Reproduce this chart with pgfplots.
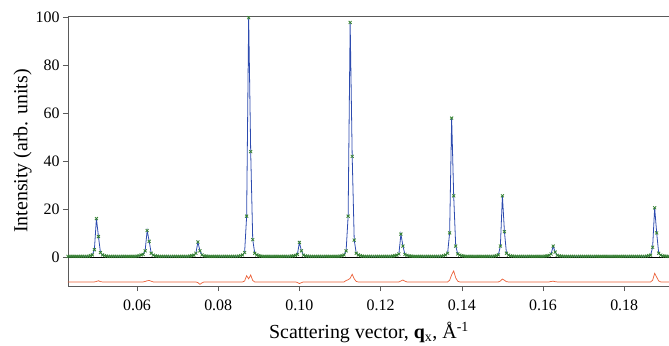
\documentclass[border=0pt]{standalone}
\usepackage{pgfplots}
\pgfplotsset{compat=1.18}
\usepackage{fontspec}
\setmainfont{Liberation Serif}
\definecolor{fitblue}{RGB}{45,75,175}
\definecolor{obsgreen}{RGB}{55,130,50}
\definecolor{diffred}{RGB}{235,95,55}
\definecolor{axgray}{RGB}{90,90,90}
\begin{document}
\begin{tikzpicture}
\begin{axis}[
  at={(0,0)}, anchor=south west,
  scale only axis, width=602bp, height=270bp,
  xmin=0.0430, xmax=0.19128, ymin=-12.2, ymax=100.7,
  xtick={0.06,0.08,0.10,0.12,0.14,0.16,0.18},
  xticklabels={0.06,0.08,0.10,0.12,0.14,0.16,0.18},
  ytick={0,20,40,60,80,100},
  tick align=outside, xtick pos=bottom, ytick pos=left,
  major tick length=5bp,
  tick style={axgray, line width=0.6pt},
  axis line style={axgray, line width=0.7pt},
  /pgf/number format/assume math mode=true,
  tick label style={font=\fontsize{16}{17}\selectfont},
  xticklabel style={yshift=-5bp},
  label style={font=\fontsize{20}{22}\selectfont},
  xlabel style={yshift=-5bp},
  ylabel style={yshift=-3bp},
  xlabel={Scattering vector, \textbf{q}\textsubscript{x}, Å\textsuperscript{-1}},
  ylabel={Intensity (arb. units)},
  clip=true,
]
\addplot[black, line width=0.6pt] coordinates {(0.0430,0) (0.19128,0)};
\addplot[fitblue, line width=0.8pt, mark=none] coordinates {
(0.0430,0.2) (0.0435,0.2) (0.0440,0.2) (0.0445,0.2) (0.0450,0.2) (0.0455,0.2) (0.0460,0.2) (0.0465,0.2) (0.0470,0.2) (0.0475,0.2) (0.0480,0.2)
(0.0485,0.5) (0.0490,0.8) (0.0495,3) (0.0500,16) (0.0505,8.5) (0.0510,1.8) (0.0515,0.8) (0.0520,0.5)
(0.0525,0.3) (0.0530,0.2) (0.0535,0.2) (0.0540,0.2) (0.0545,0.2) (0.0550,0.2) (0.0555,0.2) (0.0560,0.2) (0.0565,0.2) (0.0570,0.2) (0.0575,0.2) (0.0580,0.2) (0.0585,0.2) (0.0590,0.2) (0.0595,0.2) (0.0600,0.3) (0.0605,0.5)
(0.0610,0.8) (0.0615,1.0) (0.0620,2.5) (0.0625,11) (0.0630,6.5) (0.0635,1.5) (0.0640,0.7)
(0.0645,0.4) (0.0650,0.3) (0.0655,0.2) (0.0660,0.2) (0.0665,0.2) (0.0670,0.2) (0.0675,0.2) (0.0680,0.2) (0.0685,0.2) (0.0690,0.2) (0.0695,0.2) (0.0700,0.2) (0.0705,0.2) (0.0710,0.2) (0.0715,0.2) (0.0720,0.2) (0.0725,0.2) (0.0730,0.3) (0.0735,0.5)
(0.0740,0.7) (0.0745,1.5) (0.0750,6.2) (0.0755,2.5) (0.0760,0.8)
(0.0765,0.4) (0.0770,0.3) (0.0775,0.2) (0.0780,0.2) (0.0785,0.2) (0.0790,0.2) (0.0795,0.2) (0.0800,0.2) (0.0805,0.2) (0.0810,0.2) (0.0815,0.2) (0.0820,0.2) (0.0825,0.2) (0.0830,0.2) (0.0835,0.2) (0.0840,0.2) (0.0845,0.2) (0.0850,0.3) (0.0855,0.5)
(0.0860,0.8) (0.0865,1.8) (0.0870,17) (0.0875,100) (0.0880,44) (0.0885,7.2) (0.0890,1.5) (0.0895,0.8)
(0.0900,0.5) (0.0905,0.3) (0.0910,0.2) (0.0915,0.2) (0.0920,0.2) (0.0925,0.2) (0.0930,0.2) (0.0935,0.2) (0.0940,0.2) (0.0945,0.2) (0.0950,0.2) (0.0955,0.2) (0.0960,0.2) (0.0965,0.2) (0.0970,0.2) (0.0975,0.2) (0.0980,0.3) (0.0985,0.4)
(0.0990,0.6) (0.0995,1.0) (0.1000,6) (0.1005,2.5) (0.1010,0.7)
(0.1015,0.4) (0.1020,0.3) (0.1025,0.2) (0.1030,0.2) (0.1035,0.2) (0.1040,0.2) (0.1045,0.2) (0.1050,0.2) (0.1055,0.2) (0.1060,0.2) (0.1065,0.2) (0.1070,0.2) (0.1075,0.2) (0.1080,0.2) (0.1085,0.2) (0.1090,0.2) (0.1095,0.2) (0.1100,0.3) (0.1105,0.5)
(0.1110,0.8) (0.1115,2.5) (0.1120,17) (0.1125,98) (0.1130,42) (0.1135,7) (0.1140,1.5) (0.1145,0.8)
(0.1150,0.5) (0.1155,0.3) (0.1160,0.2) (0.1165,0.2) (0.1170,0.2) (0.1175,0.2) (0.1180,0.2) (0.1185,0.2) (0.1190,0.2) (0.1195,0.2) (0.1200,0.2) (0.1205,0.2) (0.1210,0.2) (0.1215,0.2) (0.1220,0.2) (0.1225,0.2) (0.1230,0.3) (0.1235,0.5)
(0.1240,0.7) (0.1245,1.2) (0.1250,9.5) (0.1255,4.5) (0.1260,1.0) (0.1265,0.6)
(0.1270,0.4) (0.1275,0.3) (0.1280,0.2) (0.1285,0.2) (0.1290,0.2) (0.1295,0.2) (0.1300,0.2) (0.1305,0.2) (0.1310,0.2) (0.1315,0.2) (0.1320,0.2) (0.1325,0.2) (0.1330,0.2) (0.1335,0.2) (0.1340,0.2) (0.1345,0.2) (0.1350,0.3) (0.1355,0.5)
(0.1360,0.8) (0.1365,1.5) (0.1370,10) (0.1375,58) (0.1380,25.5) (0.1385,4.5) (0.1390,1.2) (0.1395,0.7)
(0.1400,0.5) (0.1405,0.3) (0.1410,0.2) (0.1415,0.2) (0.1420,0.2) (0.1425,0.2) (0.1430,0.2) (0.1435,0.2) (0.1440,0.2) (0.1445,0.2) (0.1450,0.2) (0.1455,0.2) (0.1460,0.2) (0.1465,0.2) (0.1470,0.2) (0.1475,0.2) (0.1480,0.3) (0.1485,0.5)
(0.1490,0.8) (0.1495,4.5) (0.1500,25.5) (0.1505,10.5) (0.1510,1.5) (0.1515,0.7)
(0.1520,0.4) (0.1525,0.3) (0.1530,0.2) (0.1535,0.2) (0.1540,0.2) (0.1545,0.2) (0.1550,0.2) (0.1555,0.2) (0.1560,0.2) (0.1565,0.2) (0.1570,0.2) (0.1575,0.2) (0.1580,0.2) (0.1585,0.2) (0.1590,0.2) (0.1595,0.2) (0.1600,0.2) (0.1605,0.3) (0.1610,0.4)
(0.1615,0.6) (0.1620,1.2) (0.1625,4.5) (0.1630,2) (0.1635,0.6)
(0.1640,0.4) (0.1645,0.3) (0.1650,0.2) (0.1655,0.2) (0.1660,0.2) (0.1665,0.2) (0.1670,0.2) (0.1675,0.2) (0.1680,0.2) (0.1685,0.2) (0.1690,0.2) (0.1695,0.2) (0.1700,0.2) (0.1705,0.2) (0.1710,0.2) (0.1715,0.2) (0.1720,0.2) (0.1725,0.2) (0.1730,0.2) (0.1735,0.2) (0.1740,0.2) (0.1745,0.2) (0.1750,0.2) (0.1755,0.2) (0.1760,0.2) (0.1765,0.2) (0.1770,0.2) (0.1775,0.2) (0.1780,0.2) (0.1785,0.2) (0.1790,0.2) (0.1795,0.2) (0.1800,0.2) (0.1805,0.2) (0.1810,0.2) (0.1815,0.2) (0.1820,0.2) (0.1825,0.2) (0.1830,0.2) (0.1835,0.2) (0.1840,0.2) (0.1845,0.2) (0.1850,0.2) (0.1855,0.3) (0.1860,0.5)
(0.1865,0.7) (0.1870,4) (0.1875,20.5) (0.1880,10) (0.1885,1.5) (0.1890,0.7)
(0.1895,0.4) (0.1900,0.3) (0.1905,0.2) (0.1910,0.2)
};
\addplot[only marks, mark=x, mark size=2.1bp, obsgreen, mark options={line width=0.8pt}] coordinates {
(0.0430,0.2) (0.0435,0.2) (0.0440,0.2) (0.0445,0.2) (0.0450,0.2) (0.0455,0.2) (0.0460,0.2) (0.0465,0.2) (0.0470,0.2) (0.0475,0.2) (0.0480,0.2)
(0.0485,0.5) (0.0490,0.8) (0.0495,3) (0.0500,16) (0.0505,8.5) (0.0510,1.8) (0.0515,0.8) (0.0520,0.5)
(0.0525,0.3) (0.0530,0.2) (0.0535,0.2) (0.0540,0.2) (0.0545,0.2) (0.0550,0.2) (0.0555,0.2) (0.0560,0.2) (0.0565,0.2) (0.0570,0.2) (0.0575,0.2) (0.0580,0.2) (0.0585,0.2) (0.0590,0.2) (0.0595,0.2) (0.0600,0.3) (0.0605,0.5)
(0.0610,0.8) (0.0615,1.0) (0.0620,2.5) (0.0625,11) (0.0630,6.5) (0.0635,1.5) (0.0640,0.7)
(0.0645,0.4) (0.0650,0.3) (0.0655,0.2) (0.0660,0.2) (0.0665,0.2) (0.0670,0.2) (0.0675,0.2) (0.0680,0.2) (0.0685,0.2) (0.0690,0.2) (0.0695,0.2) (0.0700,0.2) (0.0705,0.2) (0.0710,0.2) (0.0715,0.2) (0.0720,0.2) (0.0725,0.2) (0.0730,0.3) (0.0735,0.5)
(0.0740,0.7) (0.0745,1.5) (0.0750,6.2) (0.0755,2.5) (0.0760,0.8)
(0.0765,0.4) (0.0770,0.3) (0.0775,0.2) (0.0780,0.2) (0.0785,0.2) (0.0790,0.2) (0.0795,0.2) (0.0800,0.2) (0.0805,0.2) (0.0810,0.2) (0.0815,0.2) (0.0820,0.2) (0.0825,0.2) (0.0830,0.2) (0.0835,0.2) (0.0840,0.2) (0.0845,0.2) (0.0850,0.3) (0.0855,0.5)
(0.0860,0.8) (0.0865,1.8) (0.0870,17) (0.0875,100) (0.0880,44) (0.0885,7.2) (0.0890,1.5) (0.0895,0.8)
(0.0900,0.5) (0.0905,0.3) (0.0910,0.2) (0.0915,0.2) (0.0920,0.2) (0.0925,0.2) (0.0930,0.2) (0.0935,0.2) (0.0940,0.2) (0.0945,0.2) (0.0950,0.2) (0.0955,0.2) (0.0960,0.2) (0.0965,0.2) (0.0970,0.2) (0.0975,0.2) (0.0980,0.3) (0.0985,0.4)
(0.0990,0.6) (0.0995,1.0) (0.1000,6) (0.1005,2.5) (0.1010,0.7)
(0.1015,0.4) (0.1020,0.3) (0.1025,0.2) (0.1030,0.2) (0.1035,0.2) (0.1040,0.2) (0.1045,0.2) (0.1050,0.2) (0.1055,0.2) (0.1060,0.2) (0.1065,0.2) (0.1070,0.2) (0.1075,0.2) (0.1080,0.2) (0.1085,0.2) (0.1090,0.2) (0.1095,0.2) (0.1100,0.3) (0.1105,0.5)
(0.1110,0.8) (0.1115,2.5) (0.1120,17) (0.1125,98) (0.1130,42) (0.1135,7) (0.1140,1.5) (0.1145,0.8)
(0.1150,0.5) (0.1155,0.3) (0.1160,0.2) (0.1165,0.2) (0.1170,0.2) (0.1175,0.2) (0.1180,0.2) (0.1185,0.2) (0.1190,0.2) (0.1195,0.2) (0.1200,0.2) (0.1205,0.2) (0.1210,0.2) (0.1215,0.2) (0.1220,0.2) (0.1225,0.2) (0.1230,0.3) (0.1235,0.5)
(0.1240,0.7) (0.1245,1.2) (0.1250,9.5) (0.1255,4.5) (0.1260,1.0) (0.1265,0.6)
(0.1270,0.4) (0.1275,0.3) (0.1280,0.2) (0.1285,0.2) (0.1290,0.2) (0.1295,0.2) (0.1300,0.2) (0.1305,0.2) (0.1310,0.2) (0.1315,0.2) (0.1320,0.2) (0.1325,0.2) (0.1330,0.2) (0.1335,0.2) (0.1340,0.2) (0.1345,0.2) (0.1350,0.3) (0.1355,0.5)
(0.1360,0.8) (0.1365,1.5) (0.1370,10) (0.1375,58) (0.1380,25.5) (0.1385,4.5) (0.1390,1.2) (0.1395,0.7)
(0.1400,0.5) (0.1405,0.3) (0.1410,0.2) (0.1415,0.2) (0.1420,0.2) (0.1425,0.2) (0.1430,0.2) (0.1435,0.2) (0.1440,0.2) (0.1445,0.2) (0.1450,0.2) (0.1455,0.2) (0.1460,0.2) (0.1465,0.2) (0.1470,0.2) (0.1475,0.2) (0.1480,0.3) (0.1485,0.5)
(0.1490,0.8) (0.1495,4.5) (0.1500,25.5) (0.1505,10.5) (0.1510,1.5) (0.1515,0.7)
(0.1520,0.4) (0.1525,0.3) (0.1530,0.2) (0.1535,0.2) (0.1540,0.2) (0.1545,0.2) (0.1550,0.2) (0.1555,0.2) (0.1560,0.2) (0.1565,0.2) (0.1570,0.2) (0.1575,0.2) (0.1580,0.2) (0.1585,0.2) (0.1590,0.2) (0.1595,0.2) (0.1600,0.2) (0.1605,0.3) (0.1610,0.4)
(0.1615,0.6) (0.1620,1.2) (0.1625,4.5) (0.1630,2) (0.1635,0.6)
(0.1640,0.4) (0.1645,0.3) (0.1650,0.2) (0.1655,0.2) (0.1660,0.2) (0.1665,0.2) (0.1670,0.2) (0.1675,0.2) (0.1680,0.2) (0.1685,0.2) (0.1690,0.2) (0.1695,0.2) (0.1700,0.2) (0.1705,0.2) (0.1710,0.2) (0.1715,0.2) (0.1720,0.2) (0.1725,0.2) (0.1730,0.2) (0.1735,0.2) (0.1740,0.2) (0.1745,0.2) (0.1750,0.2) (0.1755,0.2) (0.1760,0.2) (0.1765,0.2) (0.1770,0.2) (0.1775,0.2) (0.1780,0.2) (0.1785,0.2) (0.1790,0.2) (0.1795,0.2) (0.1800,0.2) (0.1805,0.2) (0.1810,0.2) (0.1815,0.2) (0.1820,0.2) (0.1825,0.2) (0.1830,0.2) (0.1835,0.2) (0.1840,0.2) (0.1845,0.2) (0.1850,0.2) (0.1855,0.3) (0.1860,0.5)
(0.1865,0.7) (0.1870,4) (0.1875,20.5) (0.1880,10) (0.1885,1.5) (0.1890,0.7)
(0.1895,0.4) (0.1900,0.3) (0.1905,0.2) (0.1910,0.2)
};
\addplot[diffred, line width=0.7pt, mark=none] coordinates {
(0.0430,-10.5) (0.0495,-10.5) (0.0500,-10.3) (0.0505,-10.0) (0.0510,-10.4) (0.0515,-10.5)
(0.0615,-10.5) (0.0620,-10.3) (0.0625,-10.0) (0.0630,-9.9) (0.0635,-10.2) (0.0640,-10.5)
(0.0745,-10.5) (0.0750,-10.8) (0.0755,-11.5) (0.0760,-10.9) (0.0765,-10.5)
(0.0860,-10.5) (0.0865,-10.1) (0.0870,-7.9) (0.0875,-9.2) (0.0880,-7.6) (0.0885,-9.9) (0.0890,-10.5)
(0.0990,-10.5) (0.0995,-10.7) (0.1000,-11.2) (0.1005,-10.8) (0.1010,-10.5)
(0.1110,-10.5) (0.1115,-9.9) (0.1120,-9.6) (0.1125,-9.0) (0.1130,-7.3) (0.1135,-9.2) (0.1140,-10.3) (0.1145,-10.5)
(0.1245,-10.5) (0.1250,-10.1) (0.1255,-9.7) (0.1260,-10.2) (0.1265,-10.5)
(0.1365,-10.5) (0.1370,-9.8) (0.1375,-7.5) (0.1380,-5.9) (0.1385,-8.8) (0.1390,-10.2) (0.1395,-10.5)
(0.1490,-10.5) (0.1495,-10.1) (0.1500,-9.3) (0.1505,-9.8) (0.1510,-10.4) (0.1515,-10.5)
(0.1615,-10.5) (0.1620,-10.3) (0.1625,-10.2) (0.1630,-10.4) (0.1635,-10.5)
(0.1865,-10.5) (0.1870,-9.8) (0.1875,-6.9) (0.1880,-8.5) (0.1885,-10.1) (0.1890,-10.5) (0.19128,-10.5)
};
\end{axis}
\pgfresetboundingbox
\path (-68bp,-60bp) rectangle (601bp,286bp);
\end{tikzpicture}
\end{document}
